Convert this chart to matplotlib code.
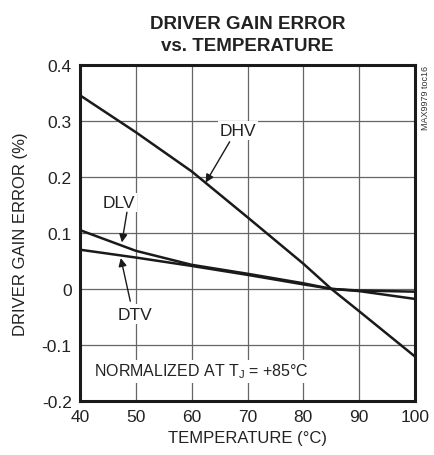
import matplotlib.pyplot as plt

plt.rcParams['font.family'] = ['Liberation Sans', 'DejaVu Sans']
plt.rcParams['mathtext.fontset'] = 'custom'
plt.rcParams['mathtext.rm'] = 'Liberation Sans'

temp = [40, 50, 60, 70, 80, 85, 90, 100]
dhv = [0.346, 0.280, 0.210, 0.128, 0.045, 0.0, -0.040, -0.121]
dlv = [0.105, 0.068, 0.043, 0.027, 0.010, 0.0, -0.004, -0.018]
dtv = [0.070, 0.056, 0.041, 0.025, 0.008, 0.0, -0.003, -0.005]

xticks = [40, 50, 60, 70, 80, 90, 100]
yticks = [-0.2, -0.1, 0, 0.1, 0.2, 0.3, 0.4]
ytick_labels = ['-0.2', '-0.1', '0', '0.1', '0.2', '0.3', '0.4']

fig = plt.figure(figsize=(4.35, 4.56), dpi=100)
ax = fig.add_axes([0.184, 0.119, 0.770, 0.736])

for y in (dhv, dlv, dtv):
    ax.plot(temp, y, color='#1a1a1a', lw=1.8, zorder=3)

ax.set_xlim(40, 100)
ax.set_ylim(-0.2, 0.4)
ax.set_xticks(xticks)
ax.set_yticks(yticks)
ax.set_yticklabels(ytick_labels)
ax.tick_params(length=0, labelsize=12.5, pad=6, colors='#222222')
ax.grid(True, color='#666666', lw=0.9, zorder=1)
for s in ax.spines.values():
    s.set_linewidth(2.2)
    s.set_color('#1a1a1a')
    s.set_zorder(4)

ax.set_xlabel('TEMPERATURE (°C)', fontsize=12, color='#222222', labelpad=4)
ax.set_ylabel('DRIVER GAIN ERROR (%)', fontsize=12, color='#222222', labelpad=10)
ax.set_title('DRIVER GAIN ERROR\nvs. TEMPERATURE', fontsize=13.5, fontweight='bold',
             color='#222222', pad=11, linespacing=1.4)

box = dict(facecolor='white', edgecolor='none', pad=1.5)
arrow = dict(arrowstyle='-|>', color='#1a1a1a', lw=1.0, mutation_scale=12,
             shrinkA=0, shrinkB=0)

ax.text(68.3, 0.283, 'DHV', fontsize=12.5, ha='center', va='center', bbox=box,
        color='#222222', zorder=5)
ax.annotate('', xy=(62.5, 0.19), xytext=(66.8, 0.263), arrowprops=arrow, zorder=5)

ax.text(47.0, 0.155, 'DLV', fontsize=12.5, ha='center', va='center', bbox=box,
        color='#222222', zorder=5)
ax.annotate('', xy=(47.5, 0.083), xytext=(48.4, 0.137), arrowprops=arrow, zorder=5)

ax.text(49.9, -0.045, 'DTV', fontsize=12.5, ha='center', va='center', bbox=box,
        color='#222222', zorder=5)
ax.annotate('', xy=(47.3, 0.055), xytext=(49.0, -0.022), arrowprops=arrow, zorder=5)

ax.text(42.5, -0.147, 'NORMALIZED AT T$_\\mathregular{J}$ = +85°C', fontsize=11.5,
        ha='left', va='center', color='#222222', bbox=box, zorder=5)

fig.text(0.978, 0.855, 'MAX9979 toc16', rotation=90, fontsize=6.5, ha='center',
         va='top', color='#333333')

fig.savefig('out.png', dpi=100)
